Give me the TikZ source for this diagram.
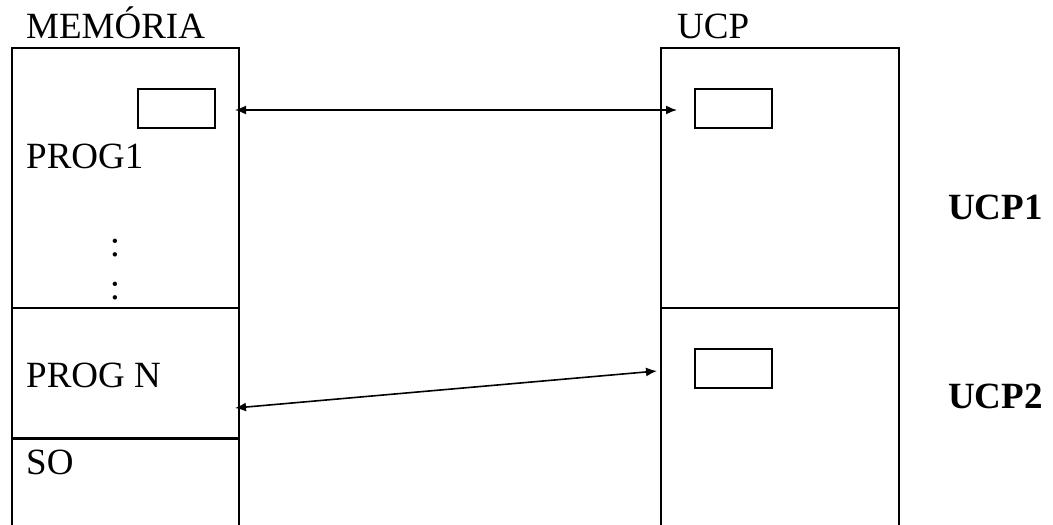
\documentclass[tikz,border=0pt]{standalone}
\usepackage{fontspec}
\setmainfont{Liberation Serif}
\usetikzlibrary{arrows.meta}
\begin{document}
\begin{tikzpicture}[x=1pt,y=-1pt,
  frame/.style={line width=2.2pt},
  reg/.style={draw,line width=2.2pt,minimum width=77pt,minimum height=39pt,inner sep=0pt},
  lbl/.style={anchor=base west,inner sep=0pt,font=\fontsize{37}{44}\selectfont},
  blbl/.style={lbl,font=\fontsize{37}{44}\selectfont\bfseries},
  link/.style={line width=1.6pt,{Latex[length=11pt,width=9pt]}-{Latex[length=11pt,width=9pt]}}]
\useasboundingbox (0,0) rectangle (1053,525);
\clip (0,0) rectangle (1053,525);
% memory column (open at the bottom)
\draw[frame] (12,530) -- (12,48) -- (239,48) -- (239,530);
\draw[frame] (12,308) -- (239,308);
\draw[frame] (12,438.5) -- (239,438.5);
% processor column
\draw[frame] (661,530) -- (661,48) -- (899,48) -- (899,530);
\draw[frame] (661,308) -- (899,308);
% registers
\node[reg] (mreg) at (176.5,108.5) {};
\node[reg] (reg1) at (733.5,108.5) {};
\node[reg] (reg2) at (733.5,368.5) {};
% labels
\node[lbl] (tmem) at (26,38) {MEMÓRIA};
\node[lbl] (tucp) at (677,38) {UCP};
\node[lbl] (tp1) at (26,168) {PROG1};
\node[lbl] (tpn) at (26,387) {PROG N};
\node[lbl] (tso) at (26,474) {SO};
\node[blbl] (tu1) at (948,219) {UCP1};
\node[blbl] (tu2) at (948,408) {UCP2};
% ellipsis dots
\node[lbl,anchor=base] (d1) at (115,256) {:};
\node[lbl,anchor=base] (d2) at (115,299) {:};
% transfer links
\coordinate (m1) at (235,110);
\coordinate (c1) at (677,110);
\coordinate (m2) at (235,408);
\coordinate (c2) at (657,371);
\draw[link] (m1) -- (c1);
\draw[link] (m2) -- (c2);
\end{tikzpicture}
\end{document}
